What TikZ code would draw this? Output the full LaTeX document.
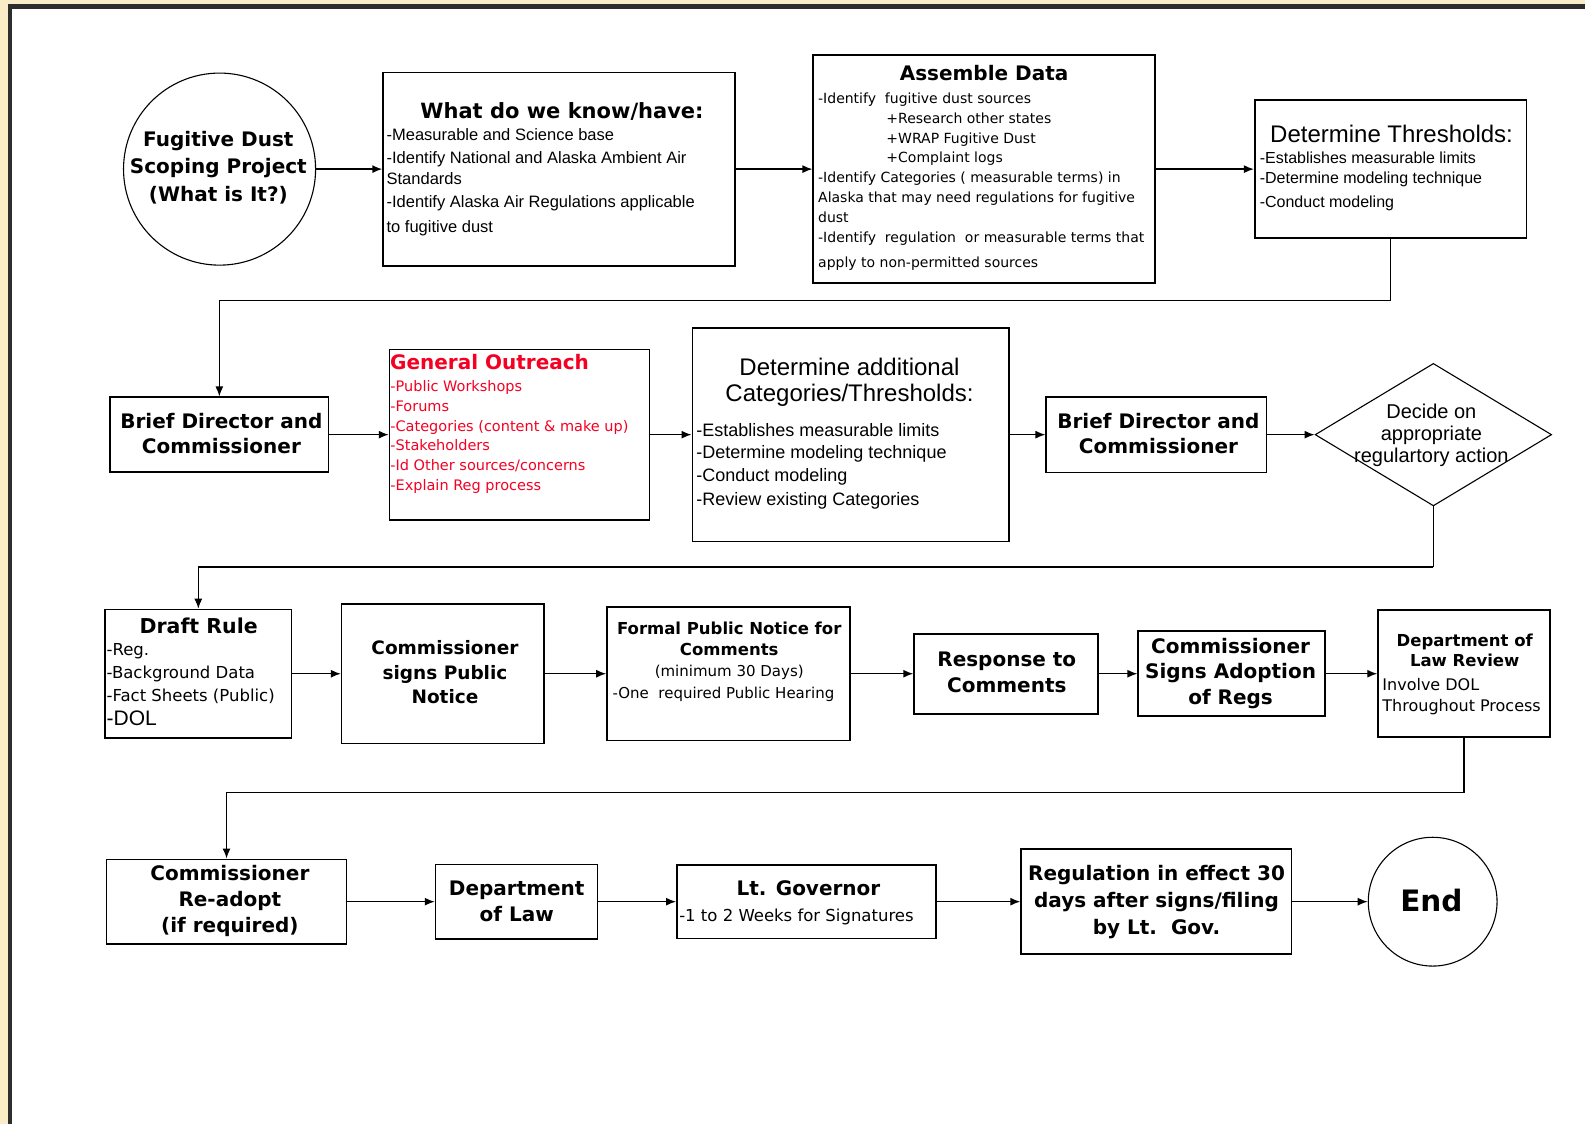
\documentclass[tikz,border=0pt]{standalone}
\usepackage{fontspec}
\setmainfont{DejaVu Sans}
\newfontfamily\arialf{Liberation Sans}
\usetikzlibrary{arrows.meta,shapes.geometric}
\definecolor{framebg}{RGB}{251,236,200}
\definecolor{frameln}{RGB}{45,45,45}
\definecolor{outred}{RGB}{245,0,35}
\newcommand\fsz[2]{\fontsize{#1}{#2}\selectfont}
\newcommand\Lns[2]{\begin{tabular}[t]{@{}#1@{}}#2\end{tabular}}
\begin{document}
\begin{tikzpicture}[x=1.011pt,y=-1.011pt,
  box/.style={draw=black,line width=1.6pt,rectangle,inner sep=0pt},
  sz/.style 2 args={minimum width=1.011*#1,minimum height=1.011*#2},
  circ/.style={draw=black,line width=1.1pt,circle,inner sep=0pt},
  txt/.style={inner sep=0pt,outer sep=0pt},
  conn/.style={line width=1.4pt,-{Latex[length=10pt,width=8pt]}},
  link/.style={line width=1.4pt}]
\useasboundingbox (0,0) rectangle (1568,1112);
% frame
\fill[framebg] (0,0) rectangle (1568,1112);
\fill[frameln] (7.9,4) rectangle (1568,1112);
\fill[white] (11.9,8.9) rectangle (1568,1112);

% ---------- row 1 ----------
\node[circ,minimum size=1.011*190] (c1) at (217.2,167.3) {};
\node[box,sz={348}{191.2}] (know) at (553,167.3) {};
\node[box,sz={338}{225.8}] (asm) at (973.5,167.3) {};
\node[box,sz={268.8}{136.8}] (thr) at (1375.7,167.3) {};

\node[txt,anchor=base,font=\bfseries\fsz{20}{27.2}] (c1t) at (216,145.1)
  {\Lns{c}{Fugitive Dust\\Scoping Project\\(What is It?)}};
\node[txt,anchor=base,font=\bfseries\fsz{21}{25}] (knowh) at (556,117) {What do we know/have:};
\node[txt,anchor=base west,font=\arialf\fsz{16.5}{23}] (knowb) at (382.5,139.2)
  {\Lns{l}{-Measurable and Science base\\-Identify National and Alaska Ambient Air\\[-2.2pt]Standards\\-Identify Alaska Air Regulations applicable\\[2.5pt]to fugitive dust}};
\node[txt,anchor=base,font=\bfseries\fsz{20}{24}] (asmh) at (973.5,79.8) {Assemble Data};
\node[txt,anchor=base west,font=\fsz{14}{19.9}] (asmb) at (809.4,102.2)
  {\Lns{l}{-Identify\ \ fugitive dust sources\\\hspace*{68.3pt}+Research other states\\\hspace*{68.3pt}+WRAP Fugitive Dust\\\hspace*{68.3pt}+Complaint logs\\-Identify Categories ( measurable terms) in\\Alaska that may need regulations for fugitive\\dust\\-Identify\ \ regulation\ \ or measurable terms that\\[4.9pt]apply to non-permitted sources}};
\node[txt,anchor=base,font=\arialf\fsz{24}{28}] (thrh) at (1376.6,140.8) {Determine Thresholds:};
\node[txt,anchor=base west,font=\arialf\fsz{16}{19.8}] (thrb) at (1246.3,161.5)
  {\Lns{l}{-Establishes measurable limits\\-Determine modeling technique\\[4.9pt]-Conduct modeling}};

\draw[conn] (c1.east) -- (know.west);
\draw[conn] (know.east) -- (asm.west);
\draw[conn] (asm.east) -- (thr.west);

% ---------- row 2 ----------
\node[box,sz={216}{74}] (b1) at (217,430) {};
\node[box,sz={257}{168.8}] (go) at (513.9,430) {};
\node[box,sz={313}{211}] (det) at (841.4,430) {};
\node[box,sz={218}{74.5}] (b2) at (1144,430) {};
\node[diamond,draw=black,line width=1.1pt,inner sep=0pt,sz={234}{141}] (dia) at (1418,430) {};

\node[txt,anchor=base,font=\bfseries\fsz{20}{25.7}] (b1t) at (219,423.7)
  {\Lns{c}{Brief Director and\\Commissioner}};
\node[txt,anchor=base west,text=outred,font=\bfseries\fsz{20}{24}] (goh) at (386,366) {General Outreach};
\node[txt,anchor=base west,text=outred,font=\fsz{14.5}{19.8}] (gob) at (386.2,387.4)
  {\Lns{l}{-Public Workshops\\-Forums\\-Categories (content \& make up)\\-Stakeholders\\-Id Other sources/concerns\\-Explain Reg process}};
\node[txt,anchor=base,font=\arialf\fsz{24}{26.3}] (deth) at (840.4,371)
  {\Lns{c}{Determine additional\\Categories/Thresholds:}};
\node[txt,anchor=base west,font=\arialf\fsz{18}{23}] (detb) at (689,431.9)
  {\Lns{l}{-Establishes measurable limits\\[-1.5pt]-Determine modeling technique\\-Conduct modeling\\[1.6pt]-Review existing Categories}};
\node[txt,anchor=base,font=\bfseries\fsz{20}{25.7}] (b2t) at (1146,423.7)
  {\Lns{c}{Brief Director and\\Commissioner}};
\node[txt,anchor=base,font=\arialf\fsz{20}{22.3}] (diat) at (1416,413.8)
  {\Lns{c}{Decide on\\appropriate\\regulartory action}};

\coordinate (j1) at (1375.7,297);
\draw[link] (thr.south) -- (j1);
\draw[conn] (j1) -| (b1.north);
\draw[conn] (b1.east) -- (go.west);
\draw[conn] (go.east) -- (det.west);
\draw[conn] (det.east) -- (b2.west);
\draw[conn] (b2.east) -- (dia.west);

% ---------- row 3 ----------
\node[box,sz={184.6}{127}] (dr) at (196.2,666.5) {};
\node[box,sz={200}{137.8}] (cs) at (438,666.5) {};
\node[box,sz={240.2}{131.9}] (fp) at (720.6,666.5) {};
\node[box,sz={182}{79.1}] (rc) at (995.3,666.5) {};
\node[box,sz={184.6}{84.1}] (sa) at (1218.3,666.5) {};
\node[box,sz={169.8}{125.7}] (dl) at (1448.2,666.5) {};

\node[txt,anchor=base,font=\bfseries\fsz{20.5}{24}] (drh) at (196.5,626.4) {Draft Rule};
\node[txt,anchor=base west,font=\fsz{16.5}{23}] (drb) at (105.5,648.9)
  {\Lns{l}{-Reg.\\-Background Data\\-Fact Sheets (Public)\\[0.8pt]{\arialf\fsz{21}{23}-DOL}}};
\node[txt,anchor=base,font=\bfseries\fsz{18.5}{24.4}] (cst) at (440.2,647.9)
  {\Lns{c}{Commissioner\\signs Public\\Notice}};
\node[txt,anchor=base,font=\bfseries\fsz{16.5}{20.8}] (fph) at (721.4,628.1)
  {\Lns{c}{Formal Public Notice for\\Comments}};
\node[txt,anchor=base,font=\fsz{15}{18}] (fpm) at (721.4,669.5) {(minimum 30 Days)};
\node[txt,anchor=base west,font=\fsz{15}{18}] (fpo) at (606,690.7) {-One\ \ required Public Hearing};
\node[txt,anchor=base,font=\bfseries\fsz{20}{26.4}] (rct) at (996,659.4)
  {\Lns{c}{Response to\\Comments}};
\node[txt,anchor=base,font=\bfseries\fsz{20}{25.5}] (sat) at (1217.4,646.2)
  {\Lns{c}{Commissioner\\Signs Adoption\\of Regs}};
\node[txt,anchor=base,font=\bfseries\fsz{16.5}{20.4}] (dlh) at (1449,639.6)
  {\Lns{c}{Department of\\Law Review}};
\node[txt,anchor=base west,font=\fsz{16}{20.7}] (dlb) at (1367.6,683.2)
  {\Lns{l}{Involve DOL\\Throughout Process}};

\coordinate (j2) at (1418,561);
\draw[link] (dia.south) -- (j2);
\draw[conn] (j2) -| (dr.north);
\draw[conn] (dr.east) -- (cs.west);
\draw[conn] (cs.east) -- (fp.west);
\draw[conn] (fp.east) -- (rc.west);
\draw[conn] (rc.east) -- (sa.west);
\draw[conn] (sa.east) -- (dl.west);

% ---------- row 4 ----------
\node[box,sz={237.6}{83.7}] (ra) at (224.1,892) {};
\node[box,sz={160}{73.5}] (dol) at (510.9,892) {};
\node[box,sz={256.4}{73.1}] (lt) at (797.8,892) {};
\node[box,sz={267.6}{103.8}] (rg) at (1144,892) {};
\node[circ,minimum size=1.011*127.4] (end) at (1417.3,892) {};

\node[txt,anchor=base,font=\bfseries\fsz{20}{26}] (rat) at (227.4,871.4)
  {\Lns{c}{Commissioner\\Re-adopt\\(if required)}};
\node[txt,anchor=base,font=\bfseries\fsz{20}{25.4}] (dolt) at (511.2,886.2)
  {\Lns{c}{Department\\of Law}};
\node[txt,anchor=base,font=\bfseries\fsz{20}{24}] (lth) at (799.8,886.2) {Lt. Governor};
\node[txt,anchor=base west,font=\fsz{16.5}{20}] (ltb) at (672,911.6) {-1 to 2 Weeks for Signatures};
\node[txt,anchor=base,font=\bfseries\fsz{20}{26.7}] (rgt) at (1144.1,871.4)
  {\Lns{c}{Regulation in effect 30\\days after signs/filing\\by Lt.\ \ Gov.}};
\node[txt,anchor=base,font=\bfseries\fsz{29.5}{32}] (endt) at (1416.1,901.8) {End};

\coordinate (j3) at (1448.2,784);
\draw[link] (dl.south) -- (j3);
\draw[conn] (j3) -| (ra.north);
\draw[conn] (ra.east) -- (dol.west);
\draw[conn] (dol.east) -- (lt.west);
\draw[conn] (lt.east) -- (rg.west);
\draw[conn] (rg.east) -- (end.west);
\end{tikzpicture}
\end{document}
